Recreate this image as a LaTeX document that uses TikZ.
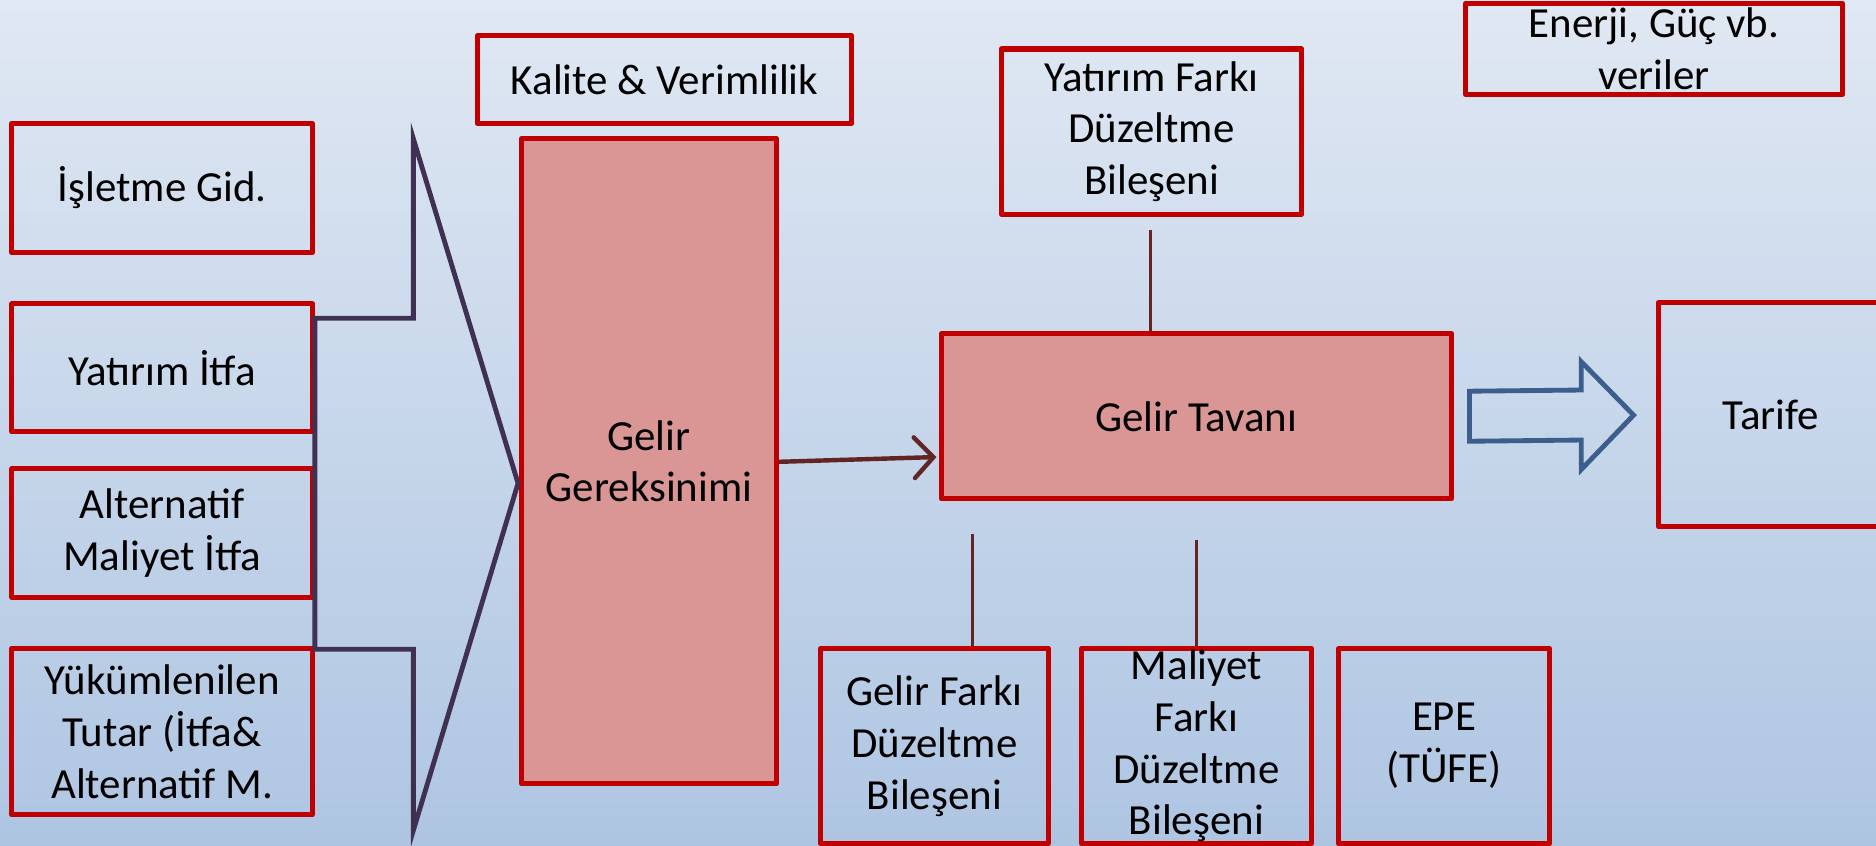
\documentclass[tikz,border=0pt]{standalone}
\usepackage{fontspec}
\setmainfont{Carlito}
\usetikzlibrary{arrows.meta,calc}
\definecolor{bgtop}{RGB}{224,232,243}
\definecolor{bgbot}{RGB}{174,197,226}
\definecolor{boxred}{RGB}{192,0,0}
\definecolor{boxfill}{RGB}{218,150,148}
\definecolor{bracec}{RGB}{64,49,82}
\definecolor{connc}{RGB}{99,37,35}
\definecolor{arrowblue}{RGB}{59,94,140}
\begin{document}
\begin{tikzpicture}[x=0.01cm,y=-0.01cm,
  box/.style={draw=boxred, line width=1.2pt, line join=round, align=center, inner sep=0pt,
    font=\fontsize{10.2}{12.3}\selectfont},
  filledbox/.style={box, fill=boxfill},
  conn/.style={draw=connc, line width=0.7pt},
  bracestyle/.style={draw=bracec, line width=1.15pt, line join=miter},
  blockarrow/.style={draw=arrowblue, line width=1.15pt, line join=miter}]
\useasboundingbox (0,0) rectangle (1568,707);
\clip (0,0) rectangle (1568,707);
\fill[top color=bgtop, bottom color=bgbot] (0,0) rectangle (1568,707);

% left input boxes
\node[box, minimum width=2.51cm, minimum height=1.08cm] (isl) at (135.5,157) {İşletme Gid.};
\node[box, minimum width=2.51cm, minimum height=1.07cm] (yi) at (135.5,307.5) {Yatırım İtfa};
\node[box, minimum width=2.51cm, minimum height=1.07cm] (ami) at (135.5,445.5) {Alternatif\\Maliyet İtfa};
\node[box, minimum width=2.51cm, minimum height=1.39cm] (yt) at (135.5,611.5) {Yükümlenilen\\Tutar (İtfa\&\\Alternatif M.};

% top boxes
\node[box, minimum width=3.13cm, minimum height=0.73cm] (kv) at (555.5,66.5) {Kalite \& Verimlilik};
\node[box, minimum width=2.51cm, minimum height=1.38cm] (yfd) at (962.5,110) {Yatırım Farkı\\Düzeltme\\Bileşeni};
\node[box, minimum width=3.15cm, minimum height=0.76cm] (egv) at (1382.5,41) {Enerji, Güç vb.\\veriler};

% central boxes
\node[filledbox, minimum width=2.13cm, minimum height=5.39cm] (gg) at (542.5,385.5) {Gelir\\Gereksinimi};
\node[filledbox, minimum width=4.26cm, minimum height=1.38cm] (gt) at (1000,348) {Gelir Tavanı};
\node[box, minimum width=1.88cm, minimum height=1.87cm] (tar) at (1480,346.5) {Tarife};

% bottom boxes
\node[box, minimum width=1.90cm, minimum height=1.63cm] (gfd) at (781,623.5) {Gelir Farkı\\Düzeltme\\Bileşeni};
\node[box, minimum width=1.92cm, minimum height=1.63cm] (mfd) at (1000,623.5) {Maliyet\\Farkı\\Düzeltme\\Bileşeni};
\node[box, minimum width=1.76cm, minimum height=1.63cm] (epe) at (1207,623.5) {EPE\\(TÜFE)};

% brace shape
\coordinate (b1) at (yi.east |- 0,266);
\coordinate (b2) at (yt.east |- 0,542.6);
\draw[bracestyle] (b1) -- (345.5,266) -- (345.5,116) -- (433,404) -- (345.5,694) -- (345.5,542.6) -- (b2) -- cycle;

% connectors
\coordinate (c1) at (962,192);
\draw[conn] (c1) -- (c1 |- gt.north);
\coordinate (c2) at (813,446.5);
\draw[conn] (c2) -- (c2 |- gfd.north);
\coordinate (c3) at (1000.4,451.4);
\draw[conn] (c3) -- (c3 |- mfd.north);
\draw[draw=connc, line width=1.05pt, -{Straight Barb[length=1.6mm,width=3.4mm,line cap=round]}]
  ([yshift=-0.005cm]gg.east) -- ([xshift=-0.02cm,yshift=-0.34cm]gt.west);

% block arrow
\coordinate (ba) at ([xshift=0.13cm]gt.east);
\draw[blockarrow] ([yshift=0.21cm]ba) -- (1321.7,326) -- (1321.7,302.4) -- (1365.4,347)
  -- (1321.7,392.4) -- (1321.7,367.8) -- ([yshift=-0.208cm]ba) -- cycle;
\end{tikzpicture}
\end{document}
